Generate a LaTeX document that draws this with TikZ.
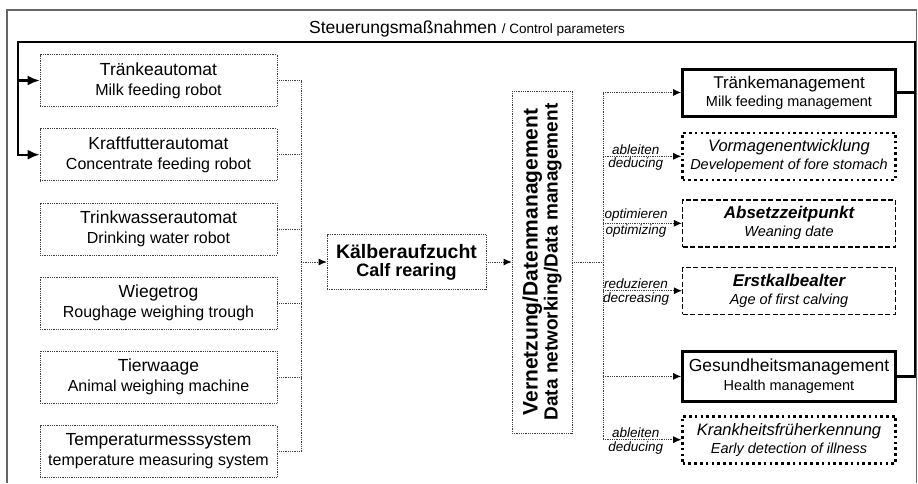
\documentclass[tikz,border=0pt]{standalone}
\usepackage{fontspec}
\setmainfont{Liberation Sans}
\newcommand{\boxsub}{\fontsize{16}{20}\selectfont}
\newcommand{\mgmtsub}{\fontsize{14.5}{18}\selectfont}
\usetikzlibrary{arrows.meta, positioning}

\begin{document}
\begin{tikzpicture}[x=1pt, y=-1pt,
    box/.style={rectangle, draw=black!75, line width=0.7pt, dash pattern=on 1pt off 0.8pt,
                minimum width=237pt, minimum height=52pt, align=center, inner sep=2pt,
                font=\fontsize{17.5}{20}\selectfont},
    hub/.style={box, minimum width=159pt, minimum height=55pt,
                font=\bfseries\fontsize{19.5}{18}\selectfont},
    net/.style={box, minimum width=342pt, minimum height=60pt,
                font=\bfseries\fontsize{21}{20}\selectfont},
    mgmt/.style={rectangle, draw, line width=3pt, minimum width=213pt, minimum height=47pt,
                 align=center, inner sep=2pt, font=\fontsize{17}{18}\selectfont},
    dotbox/.style={mgmt, line width=2.6pt, dash pattern=on 2.6pt off 3.2pt,
                   font=\itshape\fontsize{16.5}{18}\selectfont},
    dashbox/.style={mgmt, line width=1.4pt, dash pattern=on 5pt off 2.5pt,
                    font=\bfseries\itshape\fontsize{17}{18}\selectfont},
    link/.style={draw=black!75, line width=0.7pt, dash pattern=on 1pt off 0.8pt},
    arr/.style={link, -{Latex[length=8pt, width=7pt, black]}},
    ctrl/.style={line width=2.2pt},
    ctrlarr/.style={ctrl, -{Latex[length=12pt, width=10pt]}},
    lbl/.style={font=\itshape\fontsize{13.5}{15}\selectfont, inner sep=1.5pt}
]
\useasboundingbox (0,0) rectangle (918,483);
\draw[black!60, line width=1.3pt] (7,483) -- (7,10) -- (916.5,10) -- (916.5,483);

\node[anchor=base] (title) at (467,33)
    {\fontsize{17.5}{20}\selectfont Steuerungsmaßnahmen {\fontsize{13.5}{16}\selectfont / Control parameters}};

% sensors / robots
\node[box] (milk) at (158.5,80.5) {Tränkeautomat\\{\boxsub Milk feeding robot}};
\node[box, below=21.5pt of milk] (conc) {Kraftfutterautomat\\{\boxsub Concentrate feeding robot}};
\node[box, below=21.5pt of conc] (water) {Trinkwasserautomat\\{\boxsub Drinking water robot}};
\node[box, below=21.5pt of water] (trough) {Wiegetrog\\{\boxsub Roughage weighing trough}};
\node[box, below=21.5pt of trough] (scale) {Tierwaage\\{\boxsub Animal weighing machine}};
\node[box, below=21.5pt of scale] (temp) {Temperaturmesssystem\\{\boxsub temperature measuring system}};

\node[hub] (calf) at (406.5,262) {Kälberaufzucht\\{\fontsize{18}{18}\selectfont Calf rearing}};
\node[net, rotate=90] (net) at (542,262)
    {Vernetzung/Datenmanagement\\{\fontsize{19}{20}\selectfont Data networking/Data management}};

% management outputs
\node[mgmt] (milkm) at (789,92.5) {Tränkemanagement\\{\mgmtsub Milk feeding management}};
\node[dotbox, below=14pt of milkm] (stomach) {Vormagenentwicklung\\{\mgmtsub Developement of fore stomach}};
\node[dashbox, below=18pt of stomach] (wean) {Absetzzeitpunkt\\{\mgmtsub\mdseries Weaning date}};
\node[dashbox, below=19pt of wean] (calving) {Erstkalbealter\\{\mgmtsub\mdseries Age of first calving}};
\node[mgmt, below=35pt of calving, minimum height=50pt, font=\fontsize{17.5}{19}\selectfont] (health)
    {Gesundheitsmanagement\\{\mgmtsub Health management}};
\node[dotbox, below=12pt of health] (illness) {Krankheitsfrüherkennung\\{\mgmtsub Early detection of illness}};

\coordinate (lbus) at (301,0);
\coordinate (rbus) at (603,0);
\coordinate (ltop) at (18,42);
\coordinate (rtop) at (915,42);

\draw[link] (milk.east) -- (milk.east -| lbus);
\draw[link] (conc.east) -- (conc.east -| lbus);
\draw[link] (water.east) -- (water.east -| lbus);
\draw[link] (trough.east) -- (trough.east -| lbus);
\draw[link] (scale.east) -- (scale.east -| lbus);
\draw[link] (temp.east) -- (temp.east -| lbus);
\draw[link] (milk.east -| lbus) -- (temp.east -| lbus);
\draw[arr] (lbus |- calf.west) -- (calf.west);
\draw[arr] (calf.east) -- (net.north);

\draw[link] (net.south) -- (net.south -| rbus);
\draw[link] (rbus |- milkm.west) -- (rbus |- illness.west);
\draw[arr] (rbus |- milkm.west) -- (milkm.west);
\draw[arr] (rbus |- stomach.west) -- node[lbl, above, pos=0.42] (abl1) {ableiten}
    node[lbl, below, pos=0.42] (ded1) {deducing} (stomach.west);
\draw[arr] (rbus |- wean.west) -- node[lbl, above, pos=0.42] (opt) {optimieren}
    node[lbl, below, pos=0.42] (optz) {optimizing} (wean.west);
\draw[arr] (rbus |- calving.west) -- node[lbl, above, pos=0.42] (red) {reduzieren}
    node[lbl, below, pos=0.42] (dec) {decreasing} (calving.west);
\draw[arr] (rbus |- health.west) -- (health.west);
\draw[arr] (rbus |- illness.west) -- node[lbl, above, pos=0.42] (abl2) {ableiten}
    node[lbl, below, pos=0.42] (ded2) {deducing} (illness.west);

% control loop back to the robots
\draw[ctrl] (milkm.east) -- (milkm.east -| rtop);
\draw[ctrlarr] (health.east) -| (rtop) -- (ltop) |- (conc.west);
\draw[ctrlarr] (ltop |- milk.west) -- (milk.west);
\end{tikzpicture}
\end{document}
